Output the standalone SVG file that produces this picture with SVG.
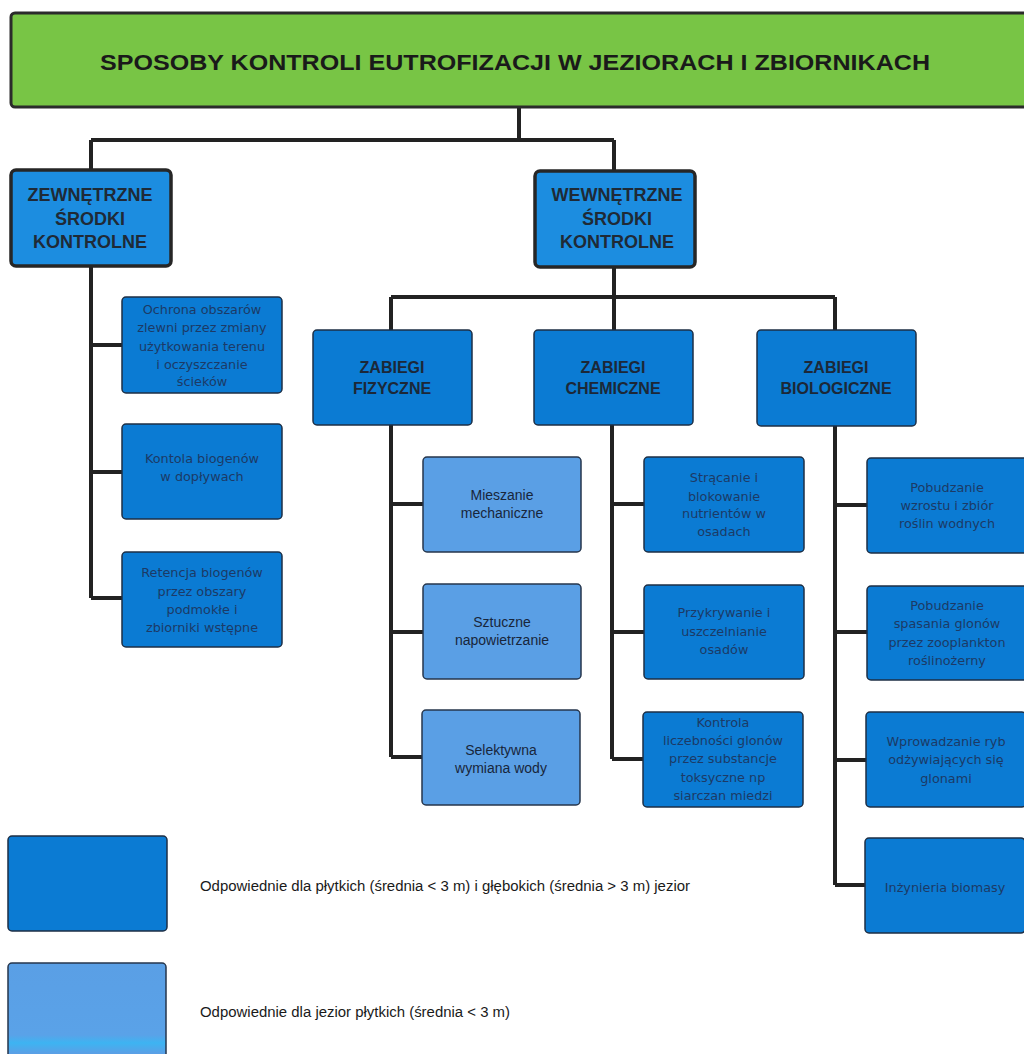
<svg xmlns="http://www.w3.org/2000/svg" width="1024" height="1054" viewBox="0 0 1024 1054">
<style>
.title{fill:#78c545;stroke:#2b2b2b;stroke-width:3}
.top{fill:#1c8de0;stroke:#262626;stroke-width:3.5}
.dark{fill:#0b7bd3;stroke:#1e2f45;stroke-width:1.5}
.light{fill:#5a9fe5;stroke:#26364c;stroke-width:1.5}
.ttl{font-family:"Liberation Sans",Arial,sans-serif;font-weight:bold;font-size:22px;fill:#1a1a1a;text-anchor:middle}
.hd{font-family:"Liberation Sans",Arial,sans-serif;font-weight:bold;font-size:18px;fill:#1f2a36;text-anchor:middle}
.sh{font-family:"Liberation Sans",Arial,sans-serif;font-weight:bold;font-size:16px;fill:#1c2838;text-anchor:middle}
.dt{font-family:"DejaVu Sans",Verdana,sans-serif;font-size:12.8px;fill:#1c3a66;text-anchor:middle}
.lt{font-family:"Liberation Sans",Arial,sans-serif;font-size:14px;fill:#18263b;text-anchor:middle}
.lg{font-family:"Liberation Sans",Arial,sans-serif;font-size:14px;fill:#1a1a1a}
.c{fill:none;stroke:#222;stroke-width:4}
</style>
<defs>
<linearGradient id="lg2" x1="0" y1="0" x2="0" y2="1">
<stop offset="0" stop-color="#5a9fe5"/>
<stop offset="0.72" stop-color="#5aa2e8"/>
<stop offset="0.8" stop-color="#3db4f2"/>
<stop offset="0.9" stop-color="#5aa0e6"/>
<stop offset="1" stop-color="#5aa0e6"/>
</linearGradient>
</defs>
<rect width="1024" height="1054" fill="#ffffff"/>
<g id="connectors">
<path class="c" d="M519 107V140M91 140H614M91 140V170M614 140V170"/>
<path class="c" d="M91 266V598M91 345H122M91 472H122M91 598H122"/>
<path class="c" d="M614 267V297M391 297H835M391 297V330M614 297V330M835 297V330"/>
<path class="c" d="M391 425V757M391 504H423M391 632H423M391 757H423"/>
<path class="c" d="M612 425V759M612 504H644M612 632H644M612 759H644"/>
<path class="c" d="M835 426V885M835 505H867M835 632H867M835 760H867M835 885H867"/>
</g>
<g id="n-title">
<rect class="title" x="11" y="13" width="1030" height="94" rx="4"/>
<text class="ttl" x="515" y="70" textLength="830" lengthAdjust="spacingAndGlyphs">SPOSOBY KONTROLI EUTROFIZACJI W JEZIORACH I ZBIORNIKACH</text>
</g>
<g id="n-zewn">
<rect class="top" x="11" y="170" width="160" height="96" rx="5"/>
<text class="hd" x="90" y="201">ZEWNĘTRZNE</text>
<text class="hd" x="90" y="225">ŚRODKI</text>
<text class="hd" x="90" y="248">KONTROLNE</text>
</g>
<g id="n-wewn">
<rect class="top" x="535" y="171" width="160" height="96" rx="5"/>
<text class="hd" x="617" y="201">WEWNĘTRZNE</text>
<text class="hd" x="617" y="225">ŚRODKI</text>
<text class="hd" x="617" y="248">KONTROLNE</text>
</g>
<g id="n-z1">
<rect class="dark" x="122" y="297" width="160" height="96" rx="4"/>
<text class="dt" x="202" y="314">Ochrona obszarów</text>
<text class="dt" x="202" y="332">zlewni przez zmiany</text>
<text class="dt" x="202" y="351">użytkowania terenu</text>
<text class="dt" x="202" y="369">i oczyszczanie</text>
<text class="dt" x="202" y="386">ścieków</text>
</g>
<g id="n-z2">
<rect class="dark" x="122" y="424" width="160" height="95" rx="4"/>
<text class="dt" x="202" y="463">Kontola biogenów</text>
<text class="dt" x="202" y="481">w dopływach</text>
</g>
<g id="n-z3">
<rect class="dark" x="122" y="552" width="160" height="95" rx="4"/>
<text class="dt" x="202" y="577">Retencja biogenów</text>
<text class="dt" x="202" y="596">przez obszary</text>
<text class="dt" x="202" y="614">podmokłe i</text>
<text class="dt" x="202" y="632">zbiorniki wstępne</text>
</g>
<g id="n-fiz">
<rect class="dark" x="313" y="330" width="159" height="95" rx="4"/>
<text class="sh" x="392" y="373">ZABIEGI</text>
<text class="sh" x="392" y="394">FIZYCZNE</text>
</g>
<g id="n-chem">
<rect class="dark" x="534" y="330" width="159" height="95" rx="4"/>
<text class="sh" x="613" y="373">ZABIEGI</text>
<text class="sh" x="613" y="394">CHEMICZNE</text>
</g>
<g id="n-bio">
<rect class="dark" x="757" y="330" width="159" height="96" rx="4"/>
<text class="sh" x="836" y="373">ZABIEGI</text>
<text class="sh" x="836" y="394">BIOLOGICZNE</text>
</g>
<g id="n-f1">
<rect class="light" x="423" y="457" width="158" height="95" rx="4"/>
<text class="lt" x="502" y="500">Mieszanie</text>
<text class="lt" x="502" y="518">mechaniczne</text>
</g>
<g id="n-f2">
<rect class="light" x="423" y="584" width="158" height="95" rx="4"/>
<text class="lt" x="502" y="627">Sztuczne</text>
<text class="lt" x="502" y="645">napowietrzanie</text>
</g>
<g id="n-f3">
<rect class="light" x="422" y="710" width="158" height="95" rx="4"/>
<text class="lt" x="501" y="755">Selektywna</text>
<text class="lt" x="501" y="773">wymiana wody</text>
</g>
<g id="n-c1">
<rect class="dark" x="644" y="457" width="160" height="95" rx="4"/>
<text class="dt" x="724" y="482">Strącanie i</text>
<text class="dt" x="724" y="501">blokowanie</text>
<text class="dt" x="724" y="518">nutrientów w</text>
<text class="dt" x="724" y="536">osadach</text>
</g>
<g id="n-c2">
<rect class="dark" x="644" y="585" width="160" height="94" rx="4"/>
<text class="dt" x="724" y="617">Przykrywanie i</text>
<text class="dt" x="724" y="636">uszczelnianie</text>
<text class="dt" x="724" y="654">osadów</text>
</g>
<g id="n-c3">
<rect class="dark" x="643" y="712" width="160" height="95" rx="4"/>
<text class="dt" x="723" y="727">Kontrola</text>
<text class="dt" x="723" y="745">liczebności glonów</text>
<text class="dt" x="723" y="763">przez substancje</text>
<text class="dt" x="723" y="782">toksyczne np</text>
<text class="dt" x="723" y="800">siarczan miedzi</text>
</g>
<g id="n-b1">
<rect class="dark" x="867" y="458" width="160" height="95" rx="4"/>
<text class="dt" x="947" y="492">Pobudzanie</text>
<text class="dt" x="947" y="510">wzrostu i zbiór</text>
<text class="dt" x="947" y="528">roślin wodnych</text>
</g>
<g id="n-b2">
<rect class="dark" x="867" y="586" width="160" height="94" rx="4"/>
<text class="dt" x="947" y="610">Pobudzanie</text>
<text class="dt" x="947" y="628">spasania glonów</text>
<text class="dt" x="947" y="647">przez zooplankton</text>
<text class="dt" x="947" y="665">roślinożerny</text>
</g>
<g id="n-b3">
<rect class="dark" x="866" y="712" width="160" height="95" rx="4"/>
<text class="dt" x="946" y="746">Wprowadzanie ryb</text>
<text class="dt" x="946" y="764">odżywiających się</text>
<text class="dt" x="946" y="783">glonami</text>
</g>
<g id="n-b4">
<rect class="dark" x="865" y="838" width="160" height="95" rx="4"/>
<text class="dt" x="945" y="892">Inżynieria biomasy</text>
</g>
<g id="legend">
<rect class="dark" x="8" y="836" width="159" height="95" rx="4"/>
<text class="lg" x="200" y="891" textLength="490" lengthAdjust="spacingAndGlyphs">Odpowiednie dla płytkich (średnia &lt; 3 m) i głębokich (średnia &gt; 3 m) jezior</text>
<rect x="8" y="963" width="158" height="100" rx="4" fill="url(#lg2)" stroke="#26364c" stroke-width="1.5"/>
<text class="lg" x="200" y="1017" textLength="310" lengthAdjust="spacingAndGlyphs">Odpowiednie dla jezior płytkich (średnia &lt; 3 m)</text>
</g>
</svg>
